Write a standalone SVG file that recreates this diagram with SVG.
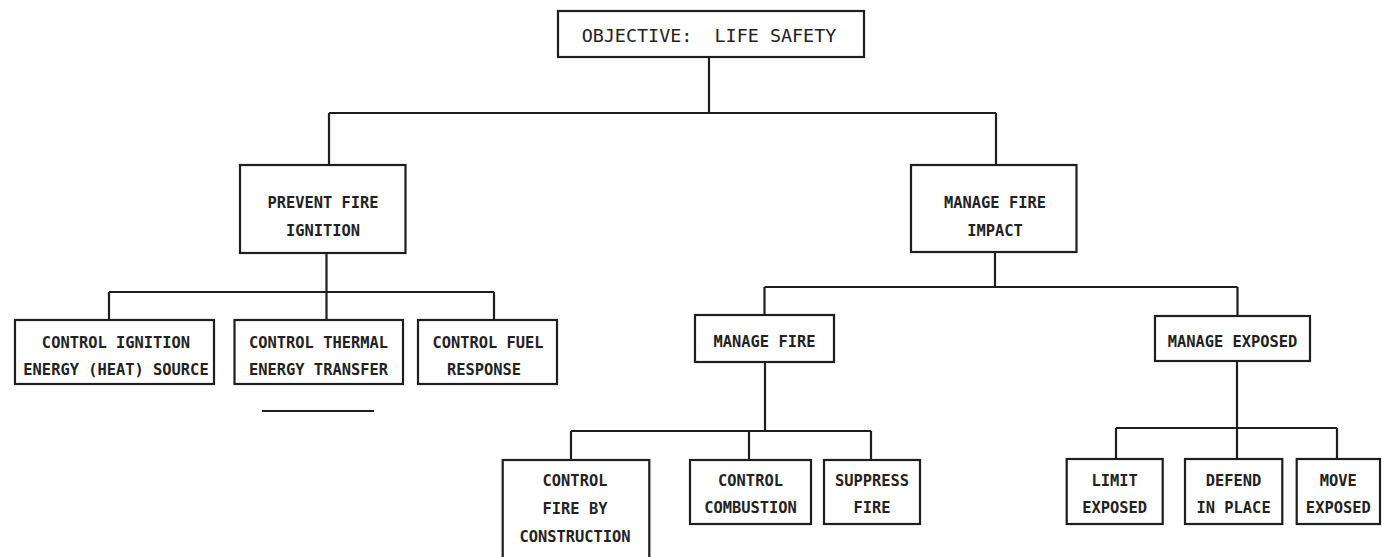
<svg xmlns="http://www.w3.org/2000/svg" width="1382" height="557" viewBox="0 0 1382 557">
<style>
.box{fill:#fff;stroke:#1e1e1e;stroke-width:2.2}
.ln{fill:none;stroke:#1e1e1e;stroke-width:2.2}
text{font-family:"DejaVu Sans Mono","Liberation Mono",monospace;font-size:15.4px;font-weight:bold;fill:#222;text-anchor:middle}
.big{font-size:18.4px;font-weight:normal;white-space:pre}
</style>
<rect width="1382" height="557" fill="#fff"/>
<g id="connectors">
<path class="ln" d="M709 57V113M329 113H996M329 113V165M996 113V165"/>
<path class="ln" d="M326.5 253V292M109 292H494M109 292V320M326.5 292V320M494 292V320"/>
<path class="ln" d="M995 252V287M764.5 287H1237.5M764.5 287V315M1237.5 287V316"/>
<path class="ln" d="M765 362V431M571 431H871M571 431V460M749 431V460M871 431V460"/>
<path class="ln" d="M1237 361V428M1116 428H1337M1116 428V459M1237 428V459M1337 428V459"/>
<path class="ln" d="M262 411H374"/>
</g>
<g id="objective"><rect class="box" x="558" y="11" width="306" height="46"/><text class="big" x="709" y="42" xml:space="preserve">OBJECTIVE:  LIFE SAFETY</text></g>
<g id="prevent"><rect class="box" x="240" y="165" width="165.5" height="88"/><text x="323" y="208">PREVENT FIRE</text><text x="323" y="236">IGNITION</text></g>
<g id="manage-impact"><rect class="box" x="911" y="165" width="165.5" height="87"/><text x="995" y="208">MANAGE FIRE</text><text x="995" y="236">IMPACT</text></g>
<g id="ctrl-ignition"><rect class="box" x="15" y="320" width="199" height="64"/><text x="116" y="348">CONTROL IGNITION</text><text x="116" y="375">ENERGY (HEAT) SOURCE</text></g>
<g id="ctrl-thermal"><rect class="box" x="234.5" y="320" width="168.5" height="64"/><text x="318.5" y="348">CONTROL THERMAL</text><text x="318.5" y="375">ENERGY TRANSFER</text></g>
<g id="ctrl-fuel"><rect class="box" x="418" y="320" width="139" height="64"/><text x="488" y="348">CONTROL FUEL</text><text x="484" y="375">RESPONSE</text></g>
<g id="manage-fire"><rect class="box" x="695" y="315" width="139" height="47"/><text x="764.5" y="347">MANAGE FIRE</text></g>
<g id="manage-exposed"><rect class="box" x="1155" y="316" width="155" height="45"/><text x="1232.5" y="347">MANAGE EXPOSED</text></g>
<g id="ctrl-construction"><rect class="box" x="502.7" y="460" width="146.6" height="110"/><text x="575" y="486">CONTROL</text><text x="575" y="513.5">FIRE BY</text><text x="575" y="541.5">CONSTRUCTION</text></g>
<g id="ctrl-combustion"><rect class="box" x="690" y="460" width="121" height="64"/><text x="750.5" y="486">CONTROL</text><text x="750.5" y="513">COMBUSTION</text></g>
<g id="suppress"><rect class="box" x="824" y="460" width="96" height="64"/><text x="872" y="486">SUPPRESS</text><text x="872" y="513">FIRE</text></g>
<g id="limit"><rect class="box" x="1066.7" y="459" width="96" height="65"/><text x="1114.7" y="486">LIMIT</text><text x="1114.7" y="513">EXPOSED</text></g>
<g id="defend"><rect class="box" x="1185" y="459" width="97.3" height="65"/><text x="1233.6" y="486">DEFEND</text><text x="1233.6" y="513">IN PLACE</text></g>
<g id="move"><rect class="box" x="1296.7" y="459" width="83.3" height="65"/><text x="1338.3" y="486">MOVE</text><text x="1338.3" y="513">EXPOSED</text></g>
</svg>
